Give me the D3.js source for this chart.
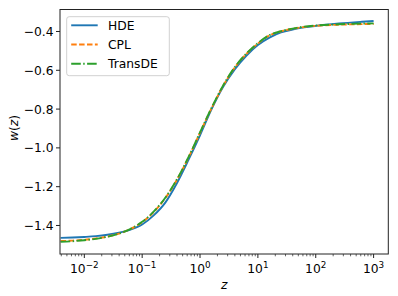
<!DOCTYPE html>
<html>
<head>
<meta charset="utf-8">
<script src="https://cdn.jsdelivr.net/npm/d3@7"></script>
<style>
  body { margin: 0; background: #fff; }
  svg { font-family: "DejaVu Sans", sans-serif; }
</style>
</head>
<body>
<svg id="chart" width="398" height="296"></svg>
<script>
// redshift grid (log spaced)
const zValues = [0.0039, 0.0063, 0.01, 0.0158, 0.0251, 0.0398, 0.0631, 0.1, 0.158, 0.251, 0.398, 0.631,
                 1, 1.585, 2.512, 3.98, 6.31, 10, 15.85, 25.1, 39.8, 63.1, 100, 251, 631, 1000];

const hde = [-1.464, -1.462, -1.459, -1.455, -1.448, -1.437, -1.421, -1.395, -1.348, -1.282, -1.182, -1.062,
             -0.935, -0.800, -0.685, -0.595, -0.525, -0.470, -0.432, -0.405, -0.390, -0.379, -0.371, -0.359, -0.350, -0.346];

const cpl = [-1.480, -1.478, -1.474, -1.467, -1.457, -1.442, -1.418, -1.383, -1.331, -1.259, -1.165, -1.050,
             -0.922, -0.795, -0.680, -0.586, -0.516, -0.462, -0.420, -0.399, -0.386, -0.377, -0.371, -0.365, -0.362, -0.361];

const transde = [-1.484, -1.481, -1.476, -1.469, -1.458, -1.442, -1.417, -1.381, -1.329, -1.257, -1.163, -1.048,
                 -0.920, -0.793, -0.678, -0.584, -0.514, -0.460, -0.419, -0.398, -0.385, -0.375, -0.369, -0.363, -0.359, -0.358];

const yTicks = [-1.4, -1.2, -1.0, -0.8, -0.6, -0.4];
const xTickExps = [-2, -1, 0, 1, 2, 3];

const series = [
  { name: "HDE", values: hde, color: "#1f77b4", dash: null },
  { name: "CPL", values: cpl, color: "#ff7f0e", dash: "5.5,2.4" },
  { name: "TransDE", values: transde, color: "#2ca02c", dash: "9.6,2.4,1.5,2.4" }
];

let svg = d3.select("#chart");
let margin = { top: 9.5, right: 10, bottom: 42, left: 60 };
const fs = 12.3;
const plotW = 388.3 - margin.left;
const plotH = 254 - margin.top;

const x = d3.scaleLog().domain([0.0038, 1795]).range([0, plotW]);
const y = d3.scaleLinear().domain([-1.547, -0.2866]).range([plotH, 0]);

const g = svg.append("g")
    .attr("transform", "translate(" + margin.left + "," + margin.top + ")");

g.append("defs").append("clipPath").attr("id", "clip")
  .append("rect").attr("width", plotW).attr("height", plotH);

// lines
const line = d3.line()
    .x((d, i) => x(zValues[i]))
    .y(d => y(d))
    .curve(d3.curveMonotoneX);

series.forEach(s => {
  g.append("path")
    .datum(s.values)
    .attr("clip-path", "url(#clip)")
    .attr("fill", "none")
    .attr("stroke", s.color)
    .attr("stroke-width", 1.9)
    .attr("stroke-dasharray", s.dash)
    .attr("d", line);
});

// frame
g.append("rect")
  .attr("width", plotW).attr("height", plotH)
  .attr("fill", "none").attr("stroke", "#222").attr("stroke-width", 1);

// y axis
g.selectAll(".ytick").data(yTicks).enter().append("line")
  .attr("x1", -4).attr("x2", 0)
  .attr("y1", d => y(d)).attr("y2", d => y(d))
  .attr("stroke", "#222").attr("stroke-width", 1);

g.selectAll(".ylab").data(yTicks).enter().append("text")
  .attr("x", -6.5).attr("y", d => y(d))
  .attr("dy", "0.36em")
  .attr("text-anchor", "end")
  .attr("font-size", fs)
  .text(d => d3.format(".1f")(d).replace("-", "\u2212"));

// x axis major + minor ticks
const minor = [];
for (let e = -3; e <= 3; e++) {
  for (let k = 2; k <= 9; k++) {
    const v = k * Math.pow(10, e);
    if (v > x.domain()[0] && v < x.domain()[1]) minor.push(v);
  }
}
g.selectAll(".xminor").data(minor).enter().append("line")
  .attr("x1", d => x(d)).attr("x2", d => x(d))
  .attr("y1", plotH).attr("y2", plotH + 2.3)
  .attr("stroke", "#222").attr("stroke-width", 0.7);

g.selectAll(".xtick").data(xTickExps).enter().append("line")
  .attr("x1", d => x(Math.pow(10, d))).attr("x2", d => x(Math.pow(10, d)))
  .attr("y1", plotH).attr("y2", plotH + 4)
  .attr("stroke", "#222").attr("stroke-width", 1);

const xl = g.selectAll(".xlab").data(xTickExps).enter().append("text")
  .attr("x", d => x(Math.pow(10, d)))
  .attr("y", plotH + 19)
  .attr("text-anchor", "middle")
  .attr("font-size", fs);
xl.append("tspan").text("10");
xl.append("tspan")
  .attr("dy", -5.5)
  .attr("font-size", 8.8)
  .text(d => String(d).replace("-", "\u2212"));

// axis labels
svg.append("text")
  .attr("x", margin.left + plotW / 2)
  .attr("y", 289)
  .attr("text-anchor", "middle")
  .attr("font-size", fs)
  .attr("font-style", "italic")
  .text("z");

svg.append("text")
  .attr("transform", "translate(17.5,128) rotate(-90)")
  .attr("text-anchor", "middle")
  .attr("font-size", fs)
  .html('<tspan font-style="italic">w</tspan>(<tspan font-style="italic">z</tspan>)');

// legend
const legend = svg.append("g").attr("transform", "translate(66.7,16.7)");
legend.append("rect")
  .attr("width", 102.6).attr("height", 59)
  .attr("rx", 2.5)
  .attr("fill", "#fff").attr("fill-opacity", 0.8)
  .attr("stroke", "#cccccc").attr("stroke-width", 0.9);

series.forEach((s, i) => {
  const yy = 8.6 + i * 19.2;
  legend.append("line")
    .attr("x1", 4.5).attr("x2", 31)
    .attr("y1", yy).attr("y2", yy)
    .attr("stroke", s.color).attr("stroke-width", 1.9)
    .attr("stroke-dasharray", s.dash);
  legend.append("text")
    .attr("x", 41.3).attr("y", yy)
    .attr("dy", "0.36em")
    .attr("font-size", fs)
    .text(s.name);
});
</script>
</body>
</html>
